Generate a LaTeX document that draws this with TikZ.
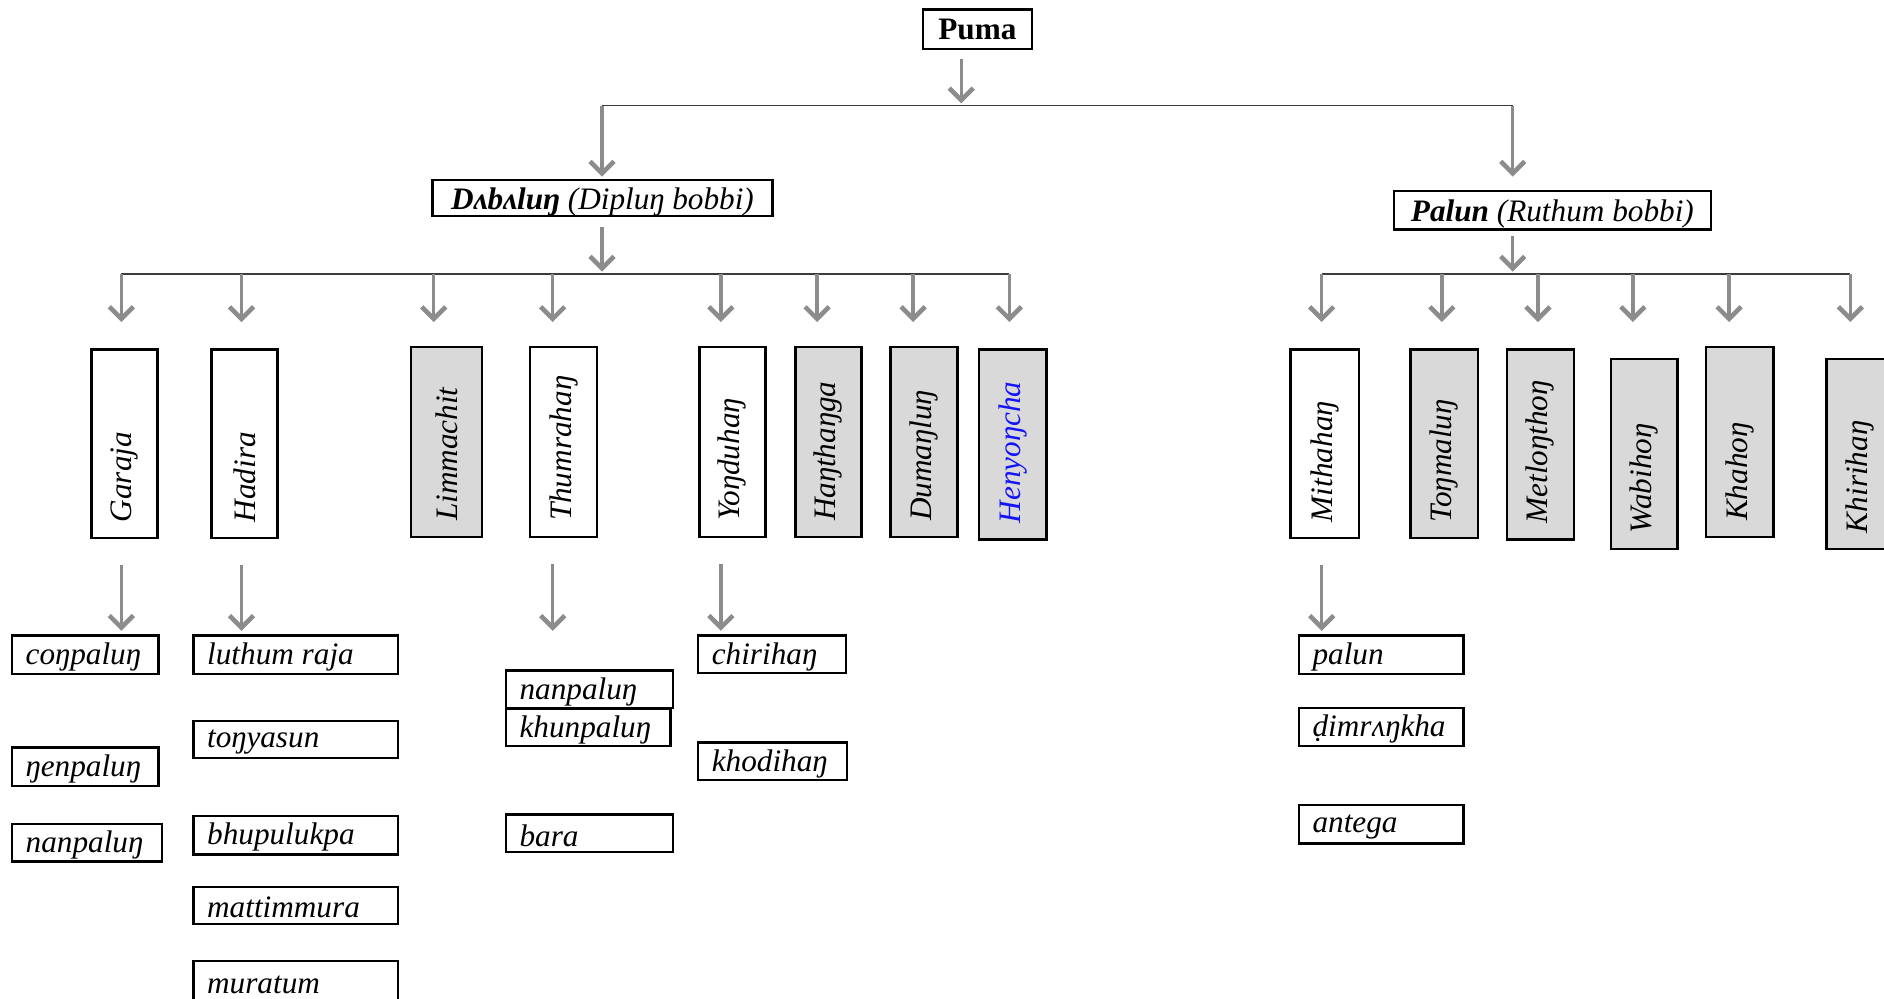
\documentclass[tikz,border=0pt]{standalone}
\usepackage{fontspec}
\setmainfont{Liberation Serif}
\usetikzlibrary{arrows.meta}
\definecolor{arrowgray}{RGB}{140,140,140}
\definecolor{busgray}{RGB}{60,60,60}
\definecolor{boxfill}{RGB}{217,217,217}
\definecolor{henblue}{RGB}{20,20,245}

% tall vertical box: name, left x, top y, width, height, fill, label
\newcommand\tallbox[7]{%
  \node[vbox, fill=#6, minimum width=#4*0.5pt, minimum height=#5*0.5pt, anchor=north west] (#1) at (#2,#3) {};
  \node[rotate=90, anchor=west, inner xsep=7pt, inner ysep=0pt, font=\lbl] (#1-t) at (#1.south) {#7};}
% word box with left-aligned text: name, left x, top y, width, height, label
\newcommand\wordbox[6]{%
  \node[vbox, minimum width=#4*0.5pt, minimum height=#5*0.5pt, anchor=north west] (#1) at (#2,#3) {};
  \node[anchor=west, inner xsep=6pt, inner ysep=0pt, yshift=-1pt, font=\lbl] (#1-t) at (#1.west) {#6};}
\newcommand\lbl{\fontsize{13}{15}\selectfont\itshape}

\begin{document}
\begin{tikzpicture}[x=0.5pt, y=-0.5pt,
  vbox/.style={draw=black, line width=1pt, inner sep=0pt},
  arr/.style={draw=arrowgray, line width=1.4pt,
    -{Straight Barb[length=5pt, width=10pt, line width=1.9pt]}},
  bus/.style={draw=busgray, line width=0.6pt},
  head/.style={vbox, font=\fontsize{13}{15}\selectfont},
  lowtext/.style={text height=9pt, text depth=0pt}]
\useasboundingbox (0,0) rectangle (1568,831);
\clip (0,0) rectangle (1568,831);

% top level
\node[head, minimum width=45.5pt, minimum height=16.5pt] (puma) at (813.5,24.5) {\textbf{Puma}};
\node[head, lowtext, minimum width=141.5pt, minimum height=15pt] (dabalun) at (501.5,165)
  {\textbf{\textit{Dʌbʌluŋ}} \textit{(Dipluŋ bobbi)}};
\node[head, lowtext, minimum width=132pt, minimum height=16pt] (palun) at (1292,175)
  {\textbf{\textit{Palun}} \textit{(Ruthum bobbi)}};

% bus points
\coordinate (tc) at (800,88);
\coordinate (tl) at (501,88);
\coordinate (tr) at (1259,88);
\coordinate (lc) at (501,228);
\coordinate (rc) at (1259,228);
\coordinate (tip) at (0,268);
\coordinate (lowtip) at (0,525);

\draw[arr, shorten <=3.5pt, shorten >=1pt] (tc |- puma.south) -- (tc);
\draw[bus] (tl) -- (tr);
\draw[arr, shorten >=1pt] (tl) -- (tl |- dabalun.north);
\draw[arr, shorten >=5.5pt] (tr) -- (tr |- palun.north);
\draw[arr, shorten <=4pt, shorten >=1pt] (lc |- dabalun.south) -- (lc);
\draw[arr, shorten <=2pt, shorten >=1pt] (rc |- palun.south) -- (rc);

% first row of branches
\tallbox{garaja}{75}{290}{55}{157}{white}{Garaja}
\tallbox{hadira}{175}{290}{55}{157}{white}{Hadira}
\tallbox{limmachit}{341}{288}{59}{158}{boxfill}{Limmachit}
\tallbox{thumrahan}{440}{288}{56}{158}{white}{Thumrahaŋ}
\tallbox{yonduhan}{581}{288}{55}{158}{white}{Yoŋduhaŋ}
\tallbox{hanthanga}{661}{288}{55}{158}{boxfill}{Haŋthaŋga}
\tallbox{dumanlun}{740}{288}{56}{158}{boxfill}{Dumaŋluŋ}
\tallbox{henyoncha}{814}{290}{56}{158}{boxfill}{\textcolor{henblue}{Henyoŋcha}}

\tallbox{mithahan}{1073}{290}{57}{157}{white}{Mithahaŋ}
\tallbox{tonmalun}{1173}{290}{56}{157}{boxfill}{Toŋmaluŋ}
\tallbox{metlonthon}{1253}{290}{56}{158}{boxfill}{Metloŋthoŋ}
\tallbox{wabihon}{1340}{298}{55}{158}{boxfill}{Wabihoŋ}
\tallbox{khahon}{1419}{288}{56}{158}{boxfill}{Khahoŋ}
\tallbox{khirihan}{1519}{298}{56}{158}{boxfill}{Khirihaŋ}

% buses to the branches
\draw[bus] (101,228) coordinate (a1) -- (840,228) coordinate (a8);
\coordinate (a2) at (201,228);
\coordinate (a3) at (361,228);
\coordinate (a4) at (460,228);
\coordinate (a5) at (600,228);
\coordinate (a6) at (680,228);
\coordinate (a7) at (760,228);
\foreach \c in {a1,a2,a3,a4,a5,a6,a7,a8}
  \draw[arr] (\c) -- (\c |- tip);

\draw[bus] (1100,228) coordinate (b1) -- (1540,228) coordinate (b6);
\coordinate (b2) at (1200,228);
\coordinate (b3) at (1280,228);
\coordinate (b4) at (1359,228);
\coordinate (b5) at (1439,228);
\foreach \c in {b1,b2,b3,b4,b5,b6}
  \draw[arr] (\c) -- (\c |- tip);

% leaves
\wordbox{conpalun}{9}{528}{122}{32}{coŋpaluŋ}
\wordbox{nenpalun}{9}{621}{122}{32}{ŋenpaluŋ}
\wordbox{nanpalunA}{9}{685}{125}{31}{nanpaluŋ}

\wordbox{luthumraja}{160}{528}{170}{32}{luthum raja}
\wordbox{tonyasun}{160}{599}{170}{31}{toŋyasun}
\wordbox{bhupulukpa}{160}{678}{170}{32}{bhupulukpa}
\wordbox{mattimmura}{160}{737}{170}{31}{mattimmura}
\wordbox{muratum}{160}{799}{170}{36}{muratum}

\wordbox{nanpalunB}{420}{557}{139}{31}{nanpaluŋ}
\wordbox{khunpalun}{420}{589}{137}{31}{khunpaluŋ}
\wordbox{bara}{420}{677}{139}{31}{bara}

\wordbox{chirihan}{580}{528}{123}{31}{chirihaŋ}
\wordbox{khodihan}{580}{617}{124}{31}{khodihaŋ}

\wordbox{palunL}{1080}{528}{137}{32}{palun}
\wordbox{dimrankha}{1080}{588}{137}{32}{ḍimrʌŋkha}
\wordbox{antega}{1080}{669}{137}{32}{antega}

% arrows from branches to their word lists
\draw[arr, shorten <=10.5pt] (garaja.south -| a1) -- (a1 |- lowtip);
\draw[arr, shorten <=10.5pt] (hadira.south -| a2) -- (a2 |- lowtip);
\draw[arr, shorten <=10.5pt] (thumrahan.south -| a4) -- (a4 |- lowtip);
\draw[arr, shorten <=10.5pt] (yonduhan.south -| a5) -- (a5 |- lowtip);
\draw[arr, shorten <=10.5pt] (mithahan.south -| b1) -- (b1 |- lowtip);
\end{tikzpicture}
\end{document}
